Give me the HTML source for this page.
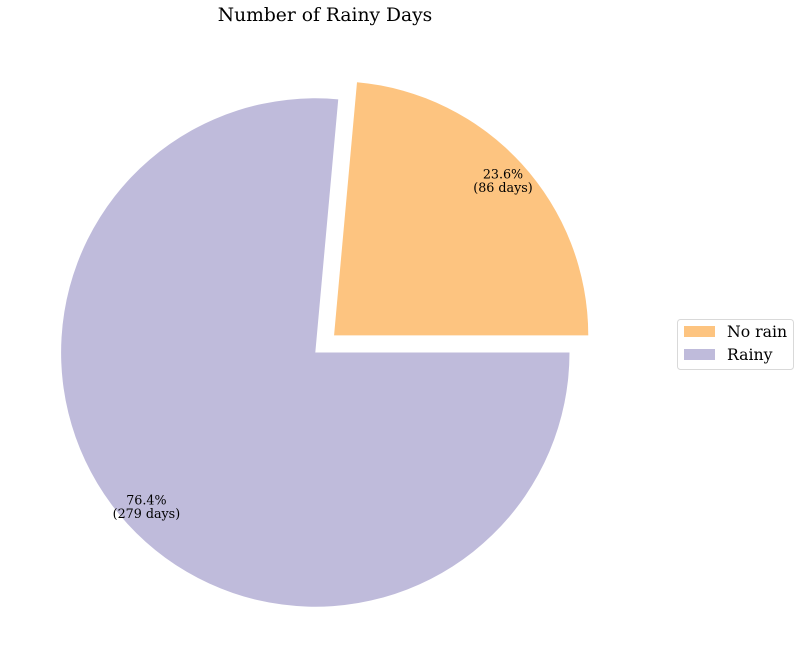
<!DOCTYPE html>
<html>
<head>
<meta charset="utf-8">
<style>
html,body{margin:0;padding:0;background:#fff;width:800px;height:669px;overflow:hidden}
svg{display:block}
text{font-family:"DejaVu Serif","Liberation Serif",serif;fill:#000}
</style>
</head>
<body>
<svg id="chart" width="800" height="669" viewBox="0 0 800 669" xmlns="http://www.w3.org/2000/svg">
  <text x="325" y="21" font-size="18.7" text-anchor="middle">Number of Rainy Days</text>
  <g id="slices"></g>
  <g id="labels"></g>
  <g>
    <rect x="677.5" y="319.5" width="116" height="50" rx="3" fill="#fff" stroke="#d9d9d9" stroke-width="1"/>
    <g id="legend-entries"></g>
  </g>
</svg>
<script>
const categories = ["No rain", "Rainy"];
const dayCounts = [86, 279];
const sliceColors = ["#fdc480", "#bfbbdb"];
const explodeFractions = [0.1, 0];

const NS = "http://www.w3.org/2000/svg";
const cx = 315.3, cy = 352.5, radius = 254.2, pctDistance = 0.9;
const total = dayCounts.reduce((a, b) => a + b, 0);
const slicesGroup = document.getElementById("slices");
const labelsGroup = document.getElementById("labels");
const legendGroup = document.getElementById("legend-entries");

function angleToPoint(x0, y0, r, turn) {
  const a = turn * 2 * Math.PI;
  return [x0 + r * Math.cos(a), y0 - r * Math.sin(a)];
}

let cumulative = 0;
dayCounts.forEach(function (value, i) {
  const share = value / total;
  const start = cumulative;
  const end = cumulative + share;
  const mid = (start + end) / 2;
  const origin = angleToPoint(cx, cy, explodeFractions[i] * radius, mid);
  const p1 = angleToPoint(origin[0], origin[1], radius, start);
  const p2 = angleToPoint(origin[0], origin[1], radius, end);
  const large = share > 0.5 ? 1 : 0;

  const path = document.createElementNS(NS, "path");
  path.setAttribute("d", "M" + origin[0] + " " + origin[1] + "L" + p1[0] + " " + p1[1] +
    "A" + radius + " " + radius + " 0 " + large + " 0 " + p2[0] + " " + p2[1] + "Z");
  path.setAttribute("fill", sliceColors[i]);
  
  
  slicesGroup.appendChild(path);

  const lp = angleToPoint(origin[0], origin[1], radius * pctDistance, mid);
  const lineA = document.createElementNS(NS, "text");
  lineA.setAttribute("x", lp[0]);
  lineA.setAttribute("y", lp[1] - 2.5);
  lineA.setAttribute("font-size", "12.7");
  lineA.setAttribute("text-anchor", "middle");
  
  
  lineA.textContent = (share * 100).toFixed(1) + "%";
  labelsGroup.appendChild(lineA);

  const lineB = document.createElementNS(NS, "text");
  lineB.setAttribute("x", lp[0]);
  lineB.setAttribute("y", lp[1] + 11);
  lineB.setAttribute("font-size", "12.7");
  lineB.setAttribute("text-anchor", "middle");
  
  
  lineB.textContent = "(" + value + " days)";
  labelsGroup.appendChild(lineB);

  const rowY = 326 + i * 23;
  const swatch = document.createElementNS(NS, "rect");
  swatch.setAttribute("x", 684);
  swatch.setAttribute("y", rowY);
  swatch.setAttribute("width", 31);
  swatch.setAttribute("height", 11);
  swatch.setAttribute("fill", sliceColors[i]);
  
  
  legendGroup.appendChild(swatch);

  const legendText = document.createElementNS(NS, "text");
  legendText.setAttribute("x", 727);
  legendText.setAttribute("y", rowY + 11);
  legendText.setAttribute("font-size", "15.7");
  
  
  legendText.textContent = categories[i];
  legendGroup.appendChild(legendText);

  cumulative = end;
});
</script>
</body>
</html>
